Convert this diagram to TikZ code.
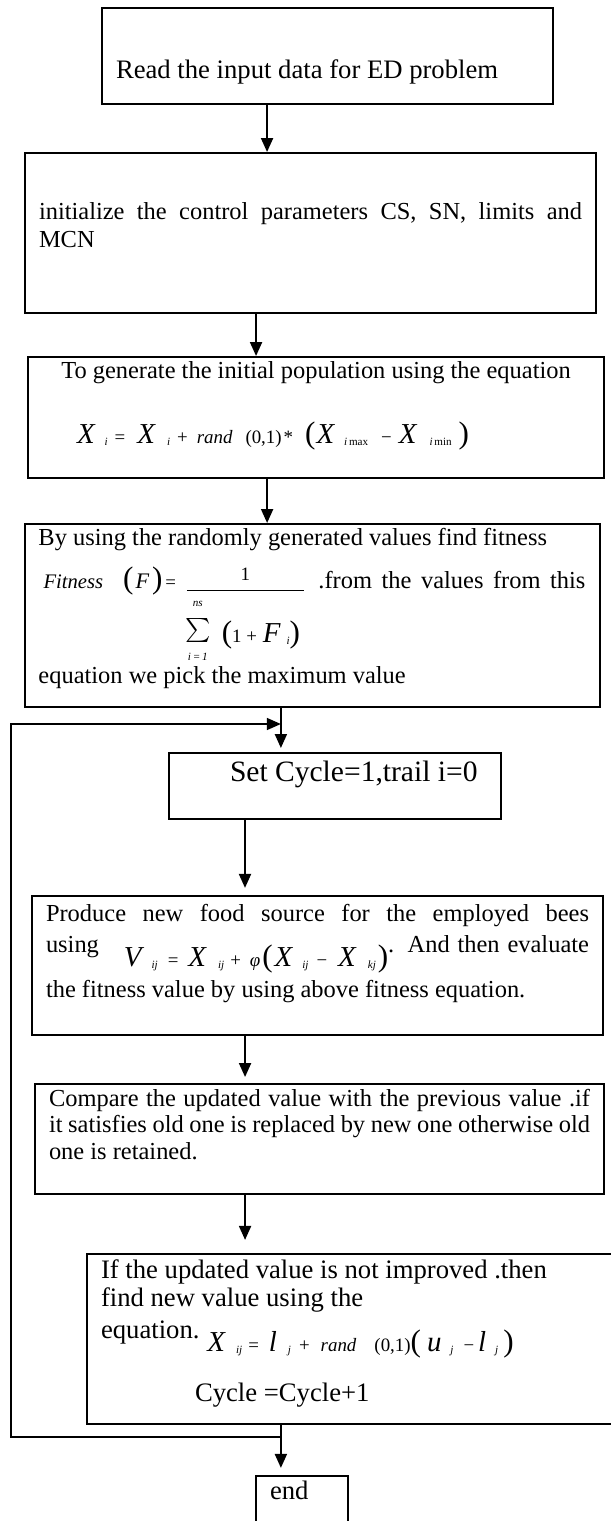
\documentclass[tikz,border=0pt]{standalone}
\usepackage{amsmath}
\usepackage{graphicx}
\usepackage{fontspec}
\setmainfont{Liberation Serif}
\usepackage{tikz}
\usetikzlibrary{arrows.meta, calc}
\newlength{\px}
\setlength{\px}{0.45pt}
\newcommand{\flowtext}[5]{\parbox[c][#1\px][t]{#2\px}{\lineskiplimit=-\maxdimen\baselineskip=#4\px\relax\rule{0pt}{#3\px}#5}}
\newcommand{\eqvar}[1]{{\fontsize{13}{13}\selectfont\itshape #1}}
\newcommand{\eqsub}[1]{\raisebox{-1pt}{\fontsize{5}{5}\selectfont #1}}
\newcommand{\eqop}[1]{{\fontsize{8.5}{8.5}\selectfont #1}}
\newcommand{\eqbig}[1]{{\fontsize{14}{14}\selectfont #1}}

\begin{document}
\begin{tikzpicture}[x=0.45pt, y=-0.45pt, >={Triangle[length=6.3pt, width=5.4pt]},
    flowbox/.style={draw, line width=0.9pt, inner xsep=6.3pt, inner ysep=0pt, anchor=north west},
    flowarrow/.style={->, line width=0.9pt},
    loopline/.style={->, line width=0.65pt}]
  \useasboundingbox (0,0) rectangle (611,1521);

  \node[flowbox, font=\fontsize{12}{14}\selectfont] (read) at (101,7)
    {\flowtext{96}{423}{70}{28}{Read the input data for ED problem}};
  \node[flowbox, font=\fontsize{11}{13}\selectfont] (init) at (24,152)
    {\flowtext{160}{543}{66}{28}{\makebox[\linewidth][s]{initialize the control parameters CS, SN, limits and}\\MCN}};
  \node[flowbox, font=\fontsize{11}{13}\selectfont] (popul) at (27,356)
    {\flowtext{121}{548}{21}{65}{\makebox[\linewidth]{To generate the initial population using the equation}\\
      \hspace*{35\px}\eqvar{X}\hspace{10\px}\eqsub{\textit{i}}\hspace{7\px}\eqop{=}\hspace{12\px}\eqvar{X}\hspace{12\px}\eqsub{\textit{i}}\hspace{7\px}\eqop{+}\hspace{9\px}\eqop{\textit{rand}}\hspace{13\px}\eqop{(0,1)}\hspace{2\px}\eqop{*}\hspace{12\px}\eqbig{(}\hspace{1\px}\eqvar{X}\hspace{10\px}\eqsub{\textit{i}\,max}\hspace{13\px}\eqop{−}\hspace{7\px}\eqvar{X}\hspace{13\px}\eqsub{\textit{i}\,min}\hspace{7\px}\eqbig{)}}};
  \node[flowbox, font=\fontsize{11}{13}\selectfont] (fitness) at (23.5,523)
    {\flowtext{183}{547}{21}{43}{By using the randomly generated values find fitness\\
      \hspace*{5\px}{\fontsize{9.3}{9.3}\selectfont\itshape Fitness}\hspace{20\px}\eqbig{(}\hspace{2\px}{\fontsize{10}{10}\selectfont\itshape F}\hspace{3\px}\eqbig{)}\hspace{3\px}\eqop{=}\hspace{8\px}\raisebox{-3.85pt}{$\genfrac{}{}{0.5pt}{0}{\mbox{\eqop{1}}}{\mbox{\rule{0pt}{21.65pt}\makebox[0pt][l]{\raisebox{16.4pt}{\makebox[22\px]{\tiny\itshape ns}}}\makebox[0pt][l]{\raisebox{-8pt}{\makebox[22\px]{\tiny\itshape i\,=\,1}}}\makebox[22\px]{\raisebox{\depth}{\resizebox*{!}{10.8pt}{$\sum$}}}\hspace{13\px}\eqbig{(}\eqop{1 +}\hspace{6\px}\eqvar{F}\hspace{6\px}\eqsub{\textit{i}}\eqbig{)}\hspace{4\px}}}$}\hfill\makebox[267\px][s]{.from the values from this}\\[52\px]
      equation we pick the maximum value}};
  \node[flowbox, font=\fontsize{13.3}{16}\selectfont] (cycle) at (168,752)
    {\flowtext{66}{304}{28}{16}{\hspace*{47\px}Set Cycle=1,trail i=0}};
  \node[flowbox, font=\fontsize{11}{13}\selectfont] (employ) at (31,895)
    {\flowtext{139}{543}{25}{31}{\makebox[\linewidth][s]{Produce new food source for the employed bees}\\
      \makebox[\linewidth][s]{using\hspace{25\px}\raisebox{-14\px}{\eqvar{V}\hspace{10\px}\eqsub{\textit{ij}}\hspace{10\px}\eqop{=}\hspace{10\px}\eqvar{X}\hspace{12\px}\eqsub{\textit{ij}}\hspace{6\px}\eqop{+}\hspace{9\px}\eqop{\textit{φ}}\hspace{2\px}\eqbig{(}\hspace{2\px}\eqvar{X}\hspace{10\px}\eqsub{\textit{ij}}\hspace{8\px}\eqop{−}\hspace{11\px}\eqvar{X}\hspace{12\px}\eqsub{\textit{kj}}\hspace{2\px}\eqbig{)}}. And then evaluate}\\[14\px]
      the fitness value by using above fitness equation.}};
  \node[flowbox, font=\fontsize{11}{13}\selectfont] (compare) at (34,1083)
    {\flowtext{110}{541}{22}{26.5}{\makebox[\linewidth][s]{Compare the updated value with the previous value .if}\\
      \makebox[\linewidth][s]{it satisfies old one is replaced by new one otherwise old}\\one is retained.}};
  \node[flowbox, font=\fontsize{12}{14}\selectfont] (improve) at (86,1253)
    {\flowtext{170}{506}{24}{28}{If the updated value is not improved .then\\find new value using the\\[4\px]
      equation.\hspace{8\px}\raisebox{-13\px}{\eqvar{X}\hspace{11\px}\eqsub{\textit{ij}}\hspace{6\px}\eqop{=}\hspace{10\px}\eqvar{l}\hspace{11\px}\eqsub{\textit{j}}\hspace{8\px}\eqop{+}\hspace{11\px}\eqop{\textit{rand}}\hspace{18\px}\eqop{(0,1)}\eqbig{(}\hspace{6\px}\eqvar{u}\hspace{9\px}\eqsub{\textit{j}}\hspace{10\px}\eqop{−}\hspace{4\px}\eqvar{l}\hspace{9\px}\eqsub{\textit{j}}\hspace{5\px}\eqbig{)}}\\[35\px]
      \hspace*{94\px}Cycle =Cycle+1}};
  \node[flowbox, font=\fontsize{12}{14}\selectfont] (finish) at (255,1475)
    {\flowtext{60}{64}{23}{14}{end}};

  \draw[flowarrow] ([xshift=-27.2pt]read.south) -- ([xshift=-27.2pt]read.south |- init.north);
  \draw[flowarrow] ([xshift=-24.5pt]init.south) -- ([xshift=-24.5pt]init.south |- popul.north);
  \draw[flowarrow] ([xshift=-22pt]popul.south) -- ([xshift=-22pt]popul.south |- fitness.north);
  \draw[flowarrow, shorten >=1.8pt] ([xshift=-14pt]fitness.south) -- ([xshift=-14pt]fitness.south |- cycle.north);
  \draw[flowarrow, shorten >=3.2pt] ([xshift=-40.5pt]cycle.south) -- ([xshift=-40.5pt]cycle.south |- employ.north);
  \draw[flowarrow, shorten >=2.7pt] ([xshift=-32.6pt]employ.south) -- ([xshift=-32.6pt]employ.south |- compare.north);
  \draw[flowarrow, shorten >=5.9pt] ([xshift=-33.5pt]compare.south) -- ([xshift=-33.5pt]compare.south |- improve.north);
  \draw[flowarrow, shorten >=3.2pt] ([xshift=-32.9pt]improve.south) -- ([xshift=-32.9pt]improve.south |- finish.north);

  \coordinate (loopout) at ([xshift=-32.9pt, yshift=-5.4pt]improve.south);
  \coordinate (loopin) at ([xshift=-14pt, yshift=-7.2pt]fitness.south);
  \draw[loopline] (loopout) -- ++(-270,0) |- (loopin);
\end{tikzpicture}
\end{document}
